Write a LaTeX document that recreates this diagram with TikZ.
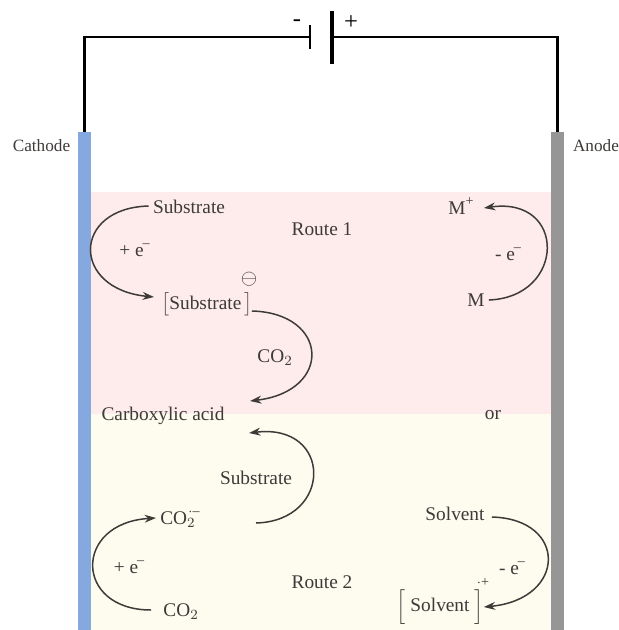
\documentclass[tikz,border=0pt]{standalone}
\usepackage{amsmath}
\usepackage{amssymb}
\usepackage{fontspec}
\setmainfont{Liberation Serif}
\usetikzlibrary{arrows.meta}
\definecolor{cathodeblue}{HTML}{85A8DE}
\definecolor{anodegrey}{HTML}{969696}
\definecolor{routeonebg}{HTML}{FEECEC}
\definecolor{routetwobg}{HTML}{FEFBEF}
\definecolor{inkgrey}{HTML}{3D3A38}
\newcommand{\supsign}[1]{\raisebox{1.05ex}{\fontsize{8}{8}\selectfont #1}}
\newcommand{\elec}{e\kern-0.6pt\supsign{--}}
\tikzset{
  lbl/.style={text=inkgrey, inner sep=0.08cm, font=\fontsize{11}{13}\selectfont},
  sidelbl/.style={lbl, font=\fontsize{9.8}{12}\selectfont},
  signlbl/.style={lbl, text=black, font=\fontsize{14}{14}\selectfont},
  electrode/.style={minimum width=0.26cm, minimum height=9.96cm, inner sep=0pt},
  wire/.style={line width=1.4pt, black},
  curvearrow/.style={line width=0.85pt, inkgrey, -{Stealth[length=6.5pt,width=4.5pt]}}
}

\begin{document}
\begin{tikzpicture}[x=0.02cm, y=-0.02cm]
    \useasboundingbox (0,0) rectangle (619,630);

    % Route backgrounds
    \fill[routeonebg] (91,192) rectangle (551,414);
    \fill[routetwobg] (91,414) rectangle (551,630);

    % Electrodes
    \node[electrode, fill=cathodeblue] (cathodebar) at (84.5,381) {};
    \node[electrode, fill=anodegrey] (anodebar) at (557.5,381) {};
    \node[sidelbl] (cathodelbl) at (41.5,146) {Cathode};
    \node[sidelbl] (anodelbl) at (596,146) {Anode};

    % Battery and wires
    \coordinate (minusplate) at (310,37);
    \coordinate (plusplate) at (332,37);
    \draw[wire] (cathodebar.north) |- (minusplate);
    \draw[wire] (anodebar.north) |- (plusplate);
    \draw[line width=1.2pt, black] (310,25) -- (310,49);
    \draw[line width=2.4pt, black] (332,11) -- (332,64);
    \node[signlbl] (minuslbl) at (297,23) {-};
    \node[signlbl] (pluslbl) at (351,23) {+};

    % Route 1
    \node[lbl] (routeone) at (322,229) {Route 1};
    \node[lbl] (substrate) at (189,207) {Substrate};
    \node[lbl, inner sep=0.04cm] (substrateion) at (207,303) {$\smash{\big[}$Substrate\,$\smash{\big]}$};
    \node[lbl, inner sep=0pt, font=\fontsize{13}{13}\selectfont] (ominus) at (249,279) {$\ominus$};
    \node[lbl] (plusone) at (134.5,250) {+ \elec};
    \node[lbl] (co2label) at (275,358) {CO$_2$};
    \node[lbl] (acid) at (163,416) {Carboxylic acid};
    \node[lbl] (metalion) at (461,206) {M\supsign{+}};
    \node[lbl] (metal) at (476,300) {M};
    \node[lbl] (minusone) at (508,254) {- \elec};
    \node[lbl] (orlbl) at (493,415) {or};

    \draw[curvearrow] ([shift={(0,-1)}]substrate.west) .. controls +(-77,2) and +(-83,-8) .. ([shift={(-5,-6)}]substrateion.west);
    \draw[curvearrow] (metal.east) .. controls +(77,-3) and +(83,-12) .. ([shift={(6,2)}]metalion.east);
    \coordinate (acidin) at (250,401);
    \draw[curvearrow] ([shift={(-3,8)}]substrateion.east) .. controls +(77,2) and +(83,-10) .. (acidin);

    % Route 2
    \node[lbl] (routetwo) at (322,582) {Route 2};
    \node[lbl] (substratetwo) at (256,478) {Substrate};
    \node[lbl] (radical) at (180,518) {CO$_2$\kern-4pt\supsign{$\cdot$--}};
    \node[lbl] (co2) at (181,612) {CO$_2$};
    \node[lbl] (plustwo) at (129,567) {+ \elec};
    \node[lbl] (solvent) at (455,514) {Solvent};
    \node[lbl] (solvention) at (440,607) {$\Big[$ Solvent $\Big]$};
    \node[lbl, inner sep=0pt] (radicalplus) at (483,587) {\supsign{$\cdot$+}};
    \node[lbl] (minustwo) at (512,568) {- \elec};

    \draw[curvearrow] ([shift={(-8,-2)}]co2.west) .. controls +(-77,0) and +(-83,5) .. (radical.west);
    \draw[curvearrow] ([shift={(3,3)}]solvent.east) .. controls +(76,2) and +(83,-8) .. ([shift={(-4,0)}]solvention.east);
    \coordinate (radicalout) at (256,523);
    \coordinate (acidintwo) at (249,433);
    \draw[curvearrow] (radicalout) .. controls +(77,-2) and +(84,-10) .. (acidintwo);
  \end{tikzpicture}
\end{document}
